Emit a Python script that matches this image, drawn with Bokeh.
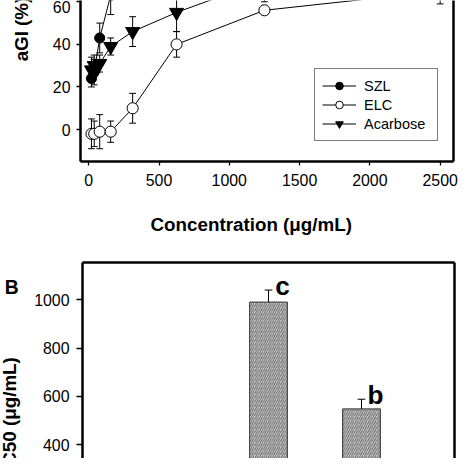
import math
from bokeh.plotting import figure
from bokeh.models import (FixedTicker, LinearAxis, Legend, LegendItem,
                          ColumnDataSource, Range1d)
from bokeh.layouts import column, row
from bokeh.embed import file_html
from bokeh.resources import INLINE
from bokeh.core.properties import value

# ---------------- data ----------------
concentration = [19.53, 39.06, 78.13, 156.25, 312.5, 625, 1250, 2500]
szl_agi = [24, 27, 43, 63]
szl_err = [4, 6, 7, 9]
elc_agi = [-2, -2, -1, -1, 10, 40, 56, 65]
elc_err = [7, 6, 8, 5, 7, 6, 2, 6]
acarbose_agi = [28, 30, 31, 39, 46, 55, 70]
acarbose_err = [6, 5, 4, 4, 7, 9, 10]
series_names = ["SZL", "ELC", "Acarbose"]
x_ticks_a = [0, 500, 1000, 1500, 2000, 2500]
y_ticks_a = [0, 20, 40, 60, 80, 100]
x_title_a = "Concentration (μg/mL)"
y_title_a = "aGI (%)"

ic50_categories = ["SZL", "ELC", "Acarbose"]
ic50_shown = ["ELC", "Acarbose"]
ic50_values = [990, 548]
ic50_err = [50, 40]
ic50_letters = ["c", "b"]
y_ticks_b = [0, 200, 400, 600, 800, 1000, 1200]
y_title_b = "IC50 (μg/mL)"
panel_b_label = "B"

# ---------------- layout constants ----------------
FONT = "Liberation Sans"
W = 458
s = W / 474.0


def S(v):
    return v * s


def px(v):
    return "%.1fpx" % S(v)


def text_fig(width, height, border_top=0, border_bottom=0):
    # y data == pixels measured up from the bottom of this canvas
    f = figure(width=width, height=height,
               x_range=Range1d(0, width),
               y_range=Range1d(border_bottom, height - border_top),
               output_backend="svg", toolbar_location=None,
               x_axis_location=None, y_axis_location=None,
               min_border=0, min_border_left=0, min_border_right=0,
               min_border_top=border_top, min_border_bottom=border_bottom)
    f.outline_line_color = None
    f.xgrid.visible = False
    f.ygrid.visible = False
    f.background_fill_color = "white"
    f.border_fill_color = "white"
    return f


def border_axis():
    return LinearAxis(ticker=FixedTicker(ticks=[]), axis_line_width=S(2.6),
                      major_label_text_font_size="0px", major_label_standoff=0,
                      major_tick_out=0, major_tick_in=0, minor_tick_out=0,
                      minor_tick_in=0)


def style_axis(ax, tick_out, standoff):
    ax.axis_line_width = S(2.6)
    ax.axis_line_color = "black"
    ax.major_tick_line_color = "black"
    ax.major_tick_line_width = S(1.3)
    ax.major_tick_out = tick_out
    ax.major_tick_in = 0
    ax.minor_tick_line_color = None
    ax.major_label_text_font = FONT
    ax.major_label_text_font_size = px(16.5)
    ax.major_label_text_color = "black"
    ax.major_label_standoff = standoff


# ---------------- panel A ----------------
LA = 40
HA = 194
frame_bottom_a = round(S(167))
bottom_a = HA - frame_bottom_a
pA = figure(width=W - LA, height=HA,
            x_range=Range1d(-58.5, 2595), y_range=Range1d(-15, 60.6),
            output_backend="svg", toolbar_location=None,
            min_border_left=round(S(82.7)) - LA,
            min_border_right=round(W - S(468.5)),
            min_border_top=0, min_border_bottom=bottom_a)
pA.outline_line_color = None
pA.xgrid.visible = False
pA.ygrid.visible = False
pA.background_fill_color = "white"
pA.border_fill_color = "white"

style_axis(pA.xaxis[0], round(S(4.5)), round(S(8.5)))
style_axis(pA.yaxis[0], round(S(4.5)), round(S(6.5)))
pA.xaxis[0].ticker = FixedTicker(ticks=x_ticks_a)
pA.yaxis[0].ticker = FixedTicker(ticks=y_ticks_a)
pA.add_layout(border_axis(), "right")

series = [
    (concentration[:len(szl_agi)], szl_agi, szl_err),
    (concentration, elc_agi, elc_err),
    (concentration[:len(acarbose_agi)], acarbose_agi, acarbose_err),
]
sources = []
for xs, ys, es in series:
    src = ColumnDataSource(dict(x=xs, y=ys,
                                upper=[a + b for a, b in zip(ys, es)],
                                lower=[a - b for a, b in zip(ys, es)]))
    sources.append(src)
    pA.segment(x0="x", y0="lower", x1="x", y1="upper", source=src,
               line_color="black", line_width=1)
    pA.scatter(x="x", y="upper", source=src, marker="dash", size=S(7),
               line_color="black", line_width=1)
    pA.scatter(x="x", y="lower", source=src, marker="dash", size=S(7),
               line_color="black", line_width=1)

lines = []
for src in sources:
    lines.append(pA.line(x="x", y="y", source=src, line_color="black",
                         line_width=1))

m_szl = pA.scatter(x="x", y="y", source=sources[0], marker="circle",
                   size=S(10.5), fill_color="black", line_color="black")
m_elc = pA.scatter(x="x", y="y", source=sources[1], marker="circle",
                   size=S(11.5), fill_color="white", line_color="black",
                   line_width=1)
m_aca = pA.scatter(x="x", y="y", source=sources[2],
                   marker="inverted_triangle", size=S(14.5),
                   fill_color="black", line_color="black")

legend = Legend(items=[
    LegendItem(label=series_names[0], renderers=[lines[0], m_szl]),
    LegendItem(label=series_names[1], renderers=[lines[1], m_elc]),
    LegendItem(label=series_names[2], renderers=[lines[2], m_aca]),
], location=(round(S(325 - 82.7)), round(S(167 - 146.7))))
legend.border_line_color = "black"
legend.border_line_width = S(1.6)
legend.background_fill_color = "white"
legend.background_fill_alpha = 1
legend.padding = round(S(7))
legend.margin = 0
legend.spacing = 0
legend.glyph_width = round(S(35))
legend.glyph_height = round(S(20))
legend.label_height = round(S(20))
legend.label_standoff = round(S(8))
legend.label_width = round(S(68))
legend.label_text_font = FONT
legend.label_text_font_size = px(15)
legend.label_text_color = "black"
pA.add_layout(legend)

# left strip: rotated y title of panel A
tA = text_fig(LA, HA, border_top=0, border_bottom=bottom_a)
tA.text(x=[S(21.7)], y=[HA - S(63)], text=[y_title_a], angle=math.pi / 2,
        text_font=value(FONT), text_font_style="bold",
        text_font_size=px(19.5), text_align="left", text_baseline="middle",
        text_color="black")

# strip below panel A: x title
HX = round(S(250)) - HA
tX = text_fig(W, HX)
tX.text(x=[S(259.5)], y=[HX - (S(232) - HA)], text=[x_title_a],
        text_font=value(FONT), text_font_style="bold",
        text_font_size=px(19.5), text_align="center",
        text_baseline="alphabetic", text_color="black")

# ---------------- panel B ----------------
LB = 28
HB = W - HA - HX
top_b = round(S(270.3 - 250))
b_units_per_px = 4.0 / s
yb_end = 1154
yb_start = yb_end - (HB - top_b) * b_units_per_px

pB = figure(width=W - LB, height=HB,
            x_range=Range1d(0, len(ic50_categories) + 1),
            y_range=Range1d(yb_start, yb_end),
            output_backend="svg", toolbar_location=None,
            min_border_left=round(S(84.7)) - LB,
            min_border_right=round(W - S(470)),
            min_border_top=top_b, min_border_bottom=0)
pB.outline_line_color = None
pB.xgrid.visible = False
pB.ygrid.visible = False
pB.xaxis.visible = False
pB.background_fill_color = "white"
pB.border_fill_color = "white"

style_axis(pB.yaxis[0], round(S(6)), round(S(7)))
pB.yaxis[0].ticker = FixedTicker(ticks=y_ticks_b)
pB.add_layout(border_axis(), "above")
pB.add_layout(border_axis(), "right")

xpos = [ic50_categories.index(c) + 1 for c in ic50_shown]
pB.vbar(x=xpos, top=ic50_values, bottom=0, width=0.405,
        fill_color="#d9d9d9", line_color="#303030", line_width=1,
        hatch_pattern="/", hatch_color="#666666", hatch_scale=S(4.5),
        hatch_weight=1.1)
err_top = [v + e for v, e in zip(ic50_values, ic50_err)]
pB.segment(x0=xpos, y0=ic50_values, x1=xpos, y1=err_top,
           line_color="black", line_width=1)
pB.scatter(x=xpos, y=err_top, marker="dash", size=S(8),
           line_color="black", line_width=1)
pB.text(x=[p + 0.15 for p in xpos], y=[t + 18 for t in err_top],
        text=ic50_letters, text_font=value(FONT), text_font_style="bold",
        text_font_size=px(27), text_align="center",
        text_baseline="alphabetic", text_color="black")

# left strip: panel letter and rotated y title of panel B
tB = text_fig(LB, HB, border_top=top_b, border_bottom=0)
tB.text(x=[S(4.5)], y=[HB - S(297 - 250)], text=[panel_b_label],
        text_font=value(FONT), text_font_style="bold",
        text_font_size=px(20), text_align="left",
        text_baseline="alphabetic", text_color="black")
tB.text(x=[S(9.5)], y=[HB - S(368.7 - 250)], text=[y_title_b],
        angle=math.pi / 2, text_font=value(FONT), text_font_style="bold",
        text_font_size=px(19.5), text_align="right",
        text_baseline="middle", text_color="black")

layout = column(row(tA, pA, spacing=0), tX, row(tB, pB, spacing=0), spacing=0)
open("out.html", "w").write(file_html(layout, INLINE))
